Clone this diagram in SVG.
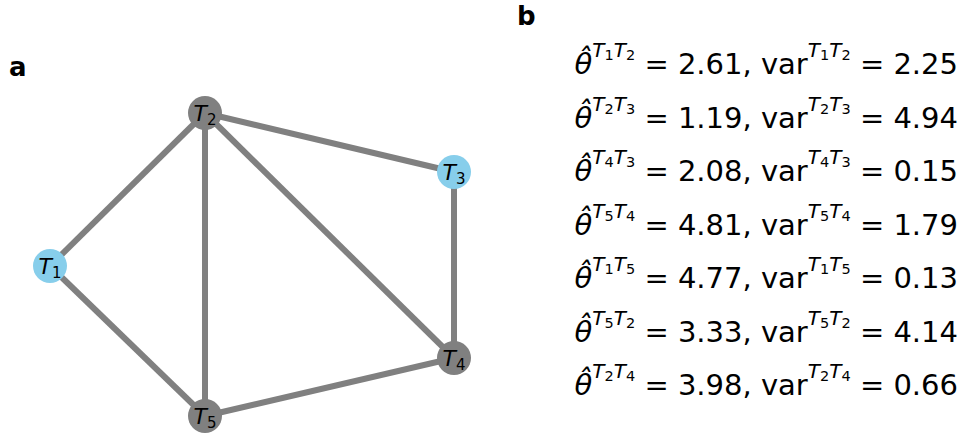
<svg xmlns="http://www.w3.org/2000/svg" width="966" height="438" viewBox="0 0 966 438">
<style>
.edge{stroke:#808080;stroke-width:6;stroke-linecap:butt;fill:none}
.blue{fill:#87CEEB}
.gray{fill:#808080}
.lbl{font-family:"DejaVu Sans",sans-serif;font-size:22px;fill:#000;text-anchor:middle}
.lsub{font-size:15px}
.it{font-style:italic}
.eq{font-family:"DejaVu Sans",sans-serif;font-size:29px;fill:#000;text-anchor:end}
.sup{font-size:20px;font-style:italic}
.sub{font-size:14.5px;font-style:normal}
.panel{font-family:"DejaVu Sans",sans-serif;font-size:26px;font-weight:bold;fill:#000}
</style>
<rect width="966" height="438" fill="#fff"/>
<text class="panel" x="9" y="76">a</text>
<text class="panel" x="517" y="25">b</text>
<g id="connectors">
<line class="edge" x1="50" y1="266" x2="205" y2="113"/>
<line class="edge" x1="50" y1="266" x2="205" y2="416"/>
<line class="edge" x1="205" y1="113" x2="454" y2="172"/>
<line class="edge" x1="205" y1="113" x2="205" y2="416"/>
<line class="edge" x1="205" y1="113" x2="454" y2="358"/>
<line class="edge" x1="454" y1="172" x2="454" y2="358"/>
<line class="edge" x1="205" y1="416" x2="454" y2="358"/>
</g>
<g id="T1"><circle class="blue" cx="50" cy="266" r="17"/><text class="lbl" x="50" y="274"><tspan class="it">T</tspan><tspan class="lsub" dy="4">1</tspan></text></g>
<g id="T2"><circle class="gray" cx="205" cy="113" r="17"/><text class="lbl" x="205" y="121"><tspan class="it">T</tspan><tspan class="lsub" dy="4">2</tspan></text></g>
<g id="T3"><circle class="blue" cx="454" cy="172" r="17"/><text class="lbl" x="454" y="180"><tspan class="it">T</tspan><tspan class="lsub" dy="4">3</tspan></text></g>
<g id="T4"><circle class="gray" cx="454" cy="358" r="17"/><text class="lbl" x="454" y="366"><tspan class="it">T</tspan><tspan class="lsub" dy="4">4</tspan></text></g>
<g id="T5"><circle class="gray" cx="205" cy="416" r="17"/><text class="lbl" x="205" y="424"><tspan class="it">T</tspan><tspan class="lsub" dy="4">5</tspan></text></g>
<g id="equations">
<text class="eq" x="958" y="74"><tspan class="it">θ̂</tspan><tspan class="sup" dy="-17">T</tspan><tspan class="sub" dy="3">1</tspan><tspan class="sup" dy="-3">T</tspan><tspan class="sub" dy="3">2</tspan><tspan dy="14"> = 2.61, var</tspan><tspan class="sup" dy="-17">T</tspan><tspan class="sub" dy="3">1</tspan><tspan class="sup" dy="-3">T</tspan><tspan class="sub" dy="3">2</tspan><tspan dy="14"> = 2.25</tspan></text>
<text class="eq" x="958" y="127.5"><tspan class="it">θ̂</tspan><tspan class="sup" dy="-17">T</tspan><tspan class="sub" dy="3">2</tspan><tspan class="sup" dy="-3">T</tspan><tspan class="sub" dy="3">3</tspan><tspan dy="14"> = 1.19, var</tspan><tspan class="sup" dy="-17">T</tspan><tspan class="sub" dy="3">2</tspan><tspan class="sup" dy="-3">T</tspan><tspan class="sub" dy="3">3</tspan><tspan dy="14"> = 4.94</tspan></text>
<text class="eq" x="958" y="181"><tspan class="it">θ̂</tspan><tspan class="sup" dy="-17">T</tspan><tspan class="sub" dy="3">4</tspan><tspan class="sup" dy="-3">T</tspan><tspan class="sub" dy="3">3</tspan><tspan dy="14"> = 2.08, var</tspan><tspan class="sup" dy="-17">T</tspan><tspan class="sub" dy="3">4</tspan><tspan class="sup" dy="-3">T</tspan><tspan class="sub" dy="3">3</tspan><tspan dy="14"> = 0.15</tspan></text>
<text class="eq" x="958" y="234.5"><tspan class="it">θ̂</tspan><tspan class="sup" dy="-17">T</tspan><tspan class="sub" dy="3">5</tspan><tspan class="sup" dy="-3">T</tspan><tspan class="sub" dy="3">4</tspan><tspan dy="14"> = 4.81, var</tspan><tspan class="sup" dy="-17">T</tspan><tspan class="sub" dy="3">5</tspan><tspan class="sup" dy="-3">T</tspan><tspan class="sub" dy="3">4</tspan><tspan dy="14"> = 1.79</tspan></text>
<text class="eq" x="958" y="288"><tspan class="it">θ̂</tspan><tspan class="sup" dy="-17">T</tspan><tspan class="sub" dy="3">1</tspan><tspan class="sup" dy="-3">T</tspan><tspan class="sub" dy="3">5</tspan><tspan dy="14"> = 4.77, var</tspan><tspan class="sup" dy="-17">T</tspan><tspan class="sub" dy="3">1</tspan><tspan class="sup" dy="-3">T</tspan><tspan class="sub" dy="3">5</tspan><tspan dy="14"> = 0.13</tspan></text>
<text class="eq" x="958" y="341.5"><tspan class="it">θ̂</tspan><tspan class="sup" dy="-17">T</tspan><tspan class="sub" dy="3">5</tspan><tspan class="sup" dy="-3">T</tspan><tspan class="sub" dy="3">2</tspan><tspan dy="14"> = 3.33, var</tspan><tspan class="sup" dy="-17">T</tspan><tspan class="sub" dy="3">5</tspan><tspan class="sup" dy="-3">T</tspan><tspan class="sub" dy="3">2</tspan><tspan dy="14"> = 4.14</tspan></text>
<text class="eq" x="958" y="395"><tspan class="it">θ̂</tspan><tspan class="sup" dy="-17">T</tspan><tspan class="sub" dy="3">2</tspan><tspan class="sup" dy="-3">T</tspan><tspan class="sub" dy="3">4</tspan><tspan dy="14"> = 3.98, var</tspan><tspan class="sup" dy="-17">T</tspan><tspan class="sub" dy="3">2</tspan><tspan class="sup" dy="-3">T</tspan><tspan class="sub" dy="3">4</tspan><tspan dy="14"> = 0.66</tspan></text>
</g>
</svg>
